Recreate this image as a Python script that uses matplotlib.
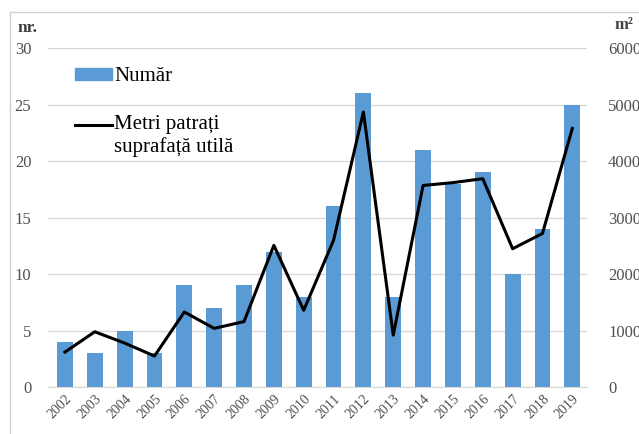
import matplotlib
matplotlib.use("Agg")
import matplotlib.pyplot as plt
from matplotlib.patches import Rectangle
from matplotlib.lines import Line2D
from matplotlib.patches import Patch

years = ["2002", "2003", "2004", "2005", "2006", "2007", "2008", "2009", "2010",
         "2011", "2012", "2013", "2014", "2015", "2016", "2017", "2018", "2019"]
numar = [4, 3, 5, 3, 9, 7, 9, 12, 8, 16, 26, 8, 21, 18, 19, 10, 14, 25]
metri = [620, 980, 780, 550, 1330, 1040, 1160, 2510, 1360, 2600, 4870, 920,
         3570, 3620, 3690, 2450, 2720, 4580]
left_ticks = [0, 5, 10, 15, 20, 25, 30]
right_ticks = [0, 1000, 2000, 3000, 4000, 5000, 6000]

plt.rcParams['font.family'] = ['Liberation Serif', 'DejaVu Serif']

fig = plt.figure(figsize=(6.39, 4.34), dpi=100)
ax = fig.add_axes([0.075, 0.108, 0.844, 0.781])
x = list(range(len(years)))
ax.bar(x, numar, width=0.53, color='#5B9BD5', zorder=2)
ax.set_ylim(0, 30)
ax.set_xlim(-0.57, len(years) - 0.5)
ax.set_yticks(left_ticks)
ax.set_yticklabels([str(t) for t in left_ticks], fontsize=12, color='#505050')
ax.yaxis.grid(True, color='#D9D9D9', linewidth=1, zorder=0)
ax.set_axisbelow(True)
ax.set_xticks(x)
ax.set_xticklabels(years, rotation=45, ha='right', rotation_mode='anchor',
                   fontsize=10, color='#505050')
for s in ax.spines.values():
    s.set_visible(False)
ax.spines['bottom'].set_visible(True)
ax.spines['bottom'].set_color('#D9D9D9')
ax.tick_params(axis='y', length=0, pad=12)
ax.tick_params(axis='x', length=0, pad=4)

ax2 = ax.twinx()
ax2.plot(x, metri, color='black', linewidth=2.2, zorder=3)
ax2.set_ylim(0, 6000)
ax2.set_yticks(right_ticks)
ax2.set_yticklabels([str(t) for t in right_ticks], fontsize=12, color='#505050')
for s in ax2.spines.values():
    s.set_visible(False)
ax2.tick_params(axis='y', length=0, pad=15)

fig.text(0.027, 0.935, "nr.", fontsize=12.5, fontweight='bold', color='#404040',
         va='center', ha='left')
fig.text(0.962, 0.942, "m²", fontsize=12, fontweight='bold', color='#404040',
         va='center', ha='left')

handles = [Patch(color='#5B9BD5'), Line2D([0], [0], color='black', linewidth=2.2)]
labels = ["Număr", "Metri patrați\nsuprafață utilă"]
leg = fig.legend(handles, labels, loc='upper left', bbox_to_anchor=(0.117, 0.845),
                 frameon=False, fontsize=15, handlelength=1.8, handletextpad=0.1,
                 labelspacing=1.4, handleheight=0.5, borderpad=0, borderaxespad=0)
ln = leg.get_lines()[0]
yd = ln.get_ydata()
ln.set_ydata([v + 8.5 for v in yd])

fig.patches.append(Rectangle((10 / 639, -0.1), 1.2, 1 - 12 / 434 + 0.1,
                             transform=fig.transFigure, fill=False,
                             edgecolor='#D0D0D0', linewidth=1))

fig.savefig("out.png", dpi=100)
